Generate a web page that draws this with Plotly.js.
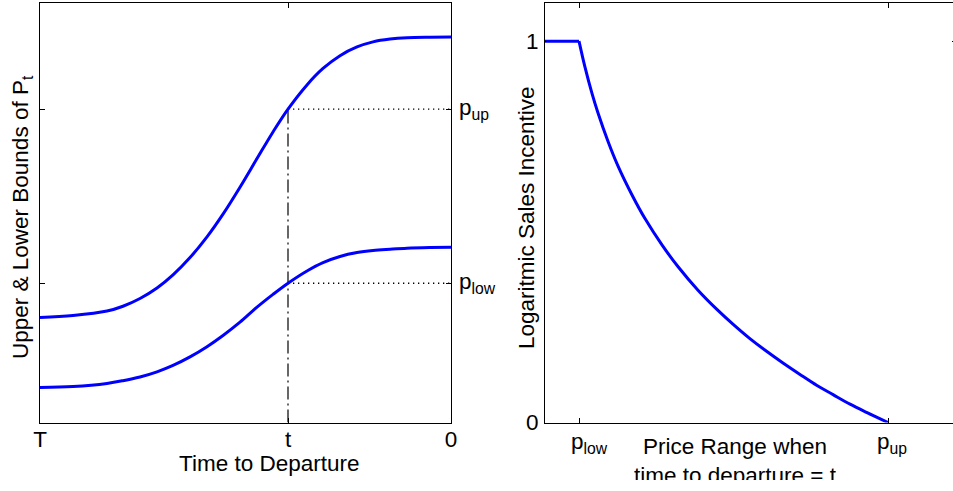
<!DOCTYPE html>
<html><head><meta charset="utf-8">
<script src="https://cdn.plot.ly/plotly-3.0.1.min.js"></script>
<style>html,body{margin:0;padding:0;background:#fff;overflow:hidden;width:953px;height:491px}</style>
</head><body><div id="chart" style="width:958px;height:480px"></div>
<script>
// ---- data ----
const timeTickVals = [0, 60.34, 100];
const timeTickText = ['T', 't', '0'];
const tVal = 60.34;
const pLow = 33.2;
const pUp = 74.7;
const timeX = [0, 8.03, 16.30, 20.19, 24.33, 28.47, 32.36, 36.50, 40.63, 44.53, 48.66, 52.80, 56.69, 60.34, 64.96, 68.86, 72.99, 77.13, 81.02, 85.16, 89.29, 94.89, 100];
const upperBound = [25.04, 25.51, 26.56, 27.71, 29.55, 32.05, 35.18, 39.31, 44.25, 49.67, 56.09, 62.91, 69.26, 74.70, 80.48, 84.39, 87.45, 89.52, 90.74, 91.41, 91.73, 91.85, 91.89];
const lowerBound = [8.35, 8.59, 9.32, 9.97, 10.86, 12.08, 13.61, 15.64, 18.07, 20.74, 23.91, 27.48, 30.53, 33.20, 36.12, 38.11, 39.57, 40.50, 41.00, 41.29, 41.53, 41.69, 41.77];
const priceX = [-0.11, 0, 0.019, 0.042, 0.061, 0.094, 0.126, 0.172, 0.214, 0.269, 0.320, 0.385, 0.447, 0.498, 0.553, 0.608, 0.660, 0.715, 0.770, 0.822, 0.877, 0.932, 1];
const incentive = [1, 1, 0.933, 0.863, 0.813, 0.737, 0.673, 0.596, 0.534, 0.465, 0.409, 0.347, 0.296, 0.258, 0.220, 0.186, 0.156, 0.126, 0.097, 0.073, 0.048, 0.026, 0];
const priceTickVals = [0, 1];
const priceTickText = ['p<sub>low</sub>', 'p<sub>up</sub>'];
const incTickVals = [0, 1];
const incTickText = ['0', '1'];

// ---- layout helpers ----
const W = 958, H = 480;
const px = v => v / W;
const py = v => 1 - v / H;
const FONT = {family: '"Liberation Sans", Arial, Helvetica, sans-serif', size: 22.5, color: '#000'};
const BLUE = '#0000ff';
const axisCommon = {showline: true, linecolor: '#000', linewidth: 1, mirror: 'ticks', ticks: 'inside',
  ticklen: 5, tickwidth: 1, tickcolor: '#000', showgrid: false, zeroline: false, fixedrange: true, tickfont: FONT};

const traces = [
  {x: [tVal, 100], y: [pUp, pUp], mode: 'lines', line: {color: '#000', width: 1.3, dash: '1.3px,3.7px'}, xaxis: 'x', yaxis: 'y', hoverinfo: 'skip'},
  {x: [tVal, 100], y: [pLow, pLow], mode: 'lines', line: {color: '#000', width: 1.3, dash: '1.3px,3.7px'}, xaxis: 'x', yaxis: 'y', hoverinfo: 'skip'},
  {x: [tVal, tVal], y: [0, pUp], mode: 'lines', line: {color: '#000', width: 1.2, dash: '13px,4px,2px,4px'}, xaxis: 'x', yaxis: 'y', hoverinfo: 'skip'},
  {x: timeX, y: upperBound, mode: 'lines', line: {color: BLUE, width: 3, shape: 'spline', smoothing: 1}, xaxis: 'x', yaxis: 'y'},
  {x: timeX, y: lowerBound, mode: 'lines', line: {color: BLUE, width: 3, shape: 'spline', smoothing: 1}, xaxis: 'x', yaxis: 'y'},
  {x: priceX.slice(0, 2), y: incentive.slice(0, 2), mode: 'lines', line: {color: BLUE, width: 3}, xaxis: 'x2', yaxis: 'y2'},
  {x: priceX.slice(1), y: incentive.slice(1), mode: 'lines', line: {color: BLUE, width: 3, shape: 'spline', smoothing: 1}, xaxis: 'x2', yaxis: 'y2'}
];

const layout = {
  width: W, height: H, margin: {l: 0, r: 0, t: 0, b: 0, pad: 0},
  paper_bgcolor: '#fff', plot_bgcolor: '#fff', showlegend: false, font: FONT,
  xaxis: Object.assign({}, axisCommon, {domain: [px(40), px(451)], range: [0, 100], tickvals: timeTickVals, ticktext: timeTickText, anchor: 'y', ticklabelstandoff: -4}),
  yaxis: Object.assign({}, axisCommon, {domain: [py(422.5), py(3)], range: [0, 100], tickvals: [pLow, pUp], showticklabels: false, anchor: 'x'}),
  xaxis2: Object.assign({}, axisCommon, {domain: [px(545), px(957)], range: [-0.11, 1.223], tickvals: priceTickVals, showticklabels: false, anchor: 'y2'}),
  yaxis2: Object.assign({}, axisCommon, {domain: [py(422.5), py(3)], range: [0, 1.1], tickvals: incTickVals, ticktext: incTickText, anchor: 'x2', ticklabelstandoff: 1}),
  annotations: [
    {text: 'Upper &amp; Lower Bounds of P<sub>t</sub>', xref: 'paper', yref: 'paper', x: px(22), y: py(217), textangle: -90, showarrow: false, xanchor: 'center', yanchor: 'middle', font: FONT},
    {text: 'Time to Departure', xref: 'paper', yref: 'paper', x: px(269), y: py(463), showarrow: false, xanchor: 'center', yanchor: 'middle', font: FONT},
    {text: 'p<sub>up</sub>', xref: 'paper', yref: 'y', x: px(457), y: pUp, showarrow: false, xanchor: 'left', yanchor: 'middle', font: FONT},
    {text: 'p<sub>low</sub>', xref: 'paper', yref: 'y', x: px(457), y: pLow, showarrow: false, xanchor: 'left', yanchor: 'middle', font: FONT},
    {text: 'Logaritmic Sales Incentive', xref: 'paper', yref: 'paper', x: px(527), y: py(218), textangle: -90, showarrow: false, xanchor: 'center', yanchor: 'middle', font: FONT},
    {text: priceTickText[0], xref: 'x2', yref: 'paper', x: priceTickVals[0], xshift: 10, y: py(443), showarrow: false, xanchor: 'center', yanchor: 'middle', font: FONT},
    {text: priceTickText[1], xref: 'x2', yref: 'paper', x: priceTickVals[1], xshift: 4, y: py(443), showarrow: false, xanchor: 'center', yanchor: 'middle', font: FONT},
    {text: 'Price Range when<br>time to departure = t', xref: 'paper', yref: 'paper', x: px(735), y: py(461), showarrow: false, xanchor: 'center', yanchor: 'middle', font: FONT}
  ]
};

Plotly.newPlot('chart', traces, layout, {staticPlot: true, displayModeBar: false});
</script></body></html>
